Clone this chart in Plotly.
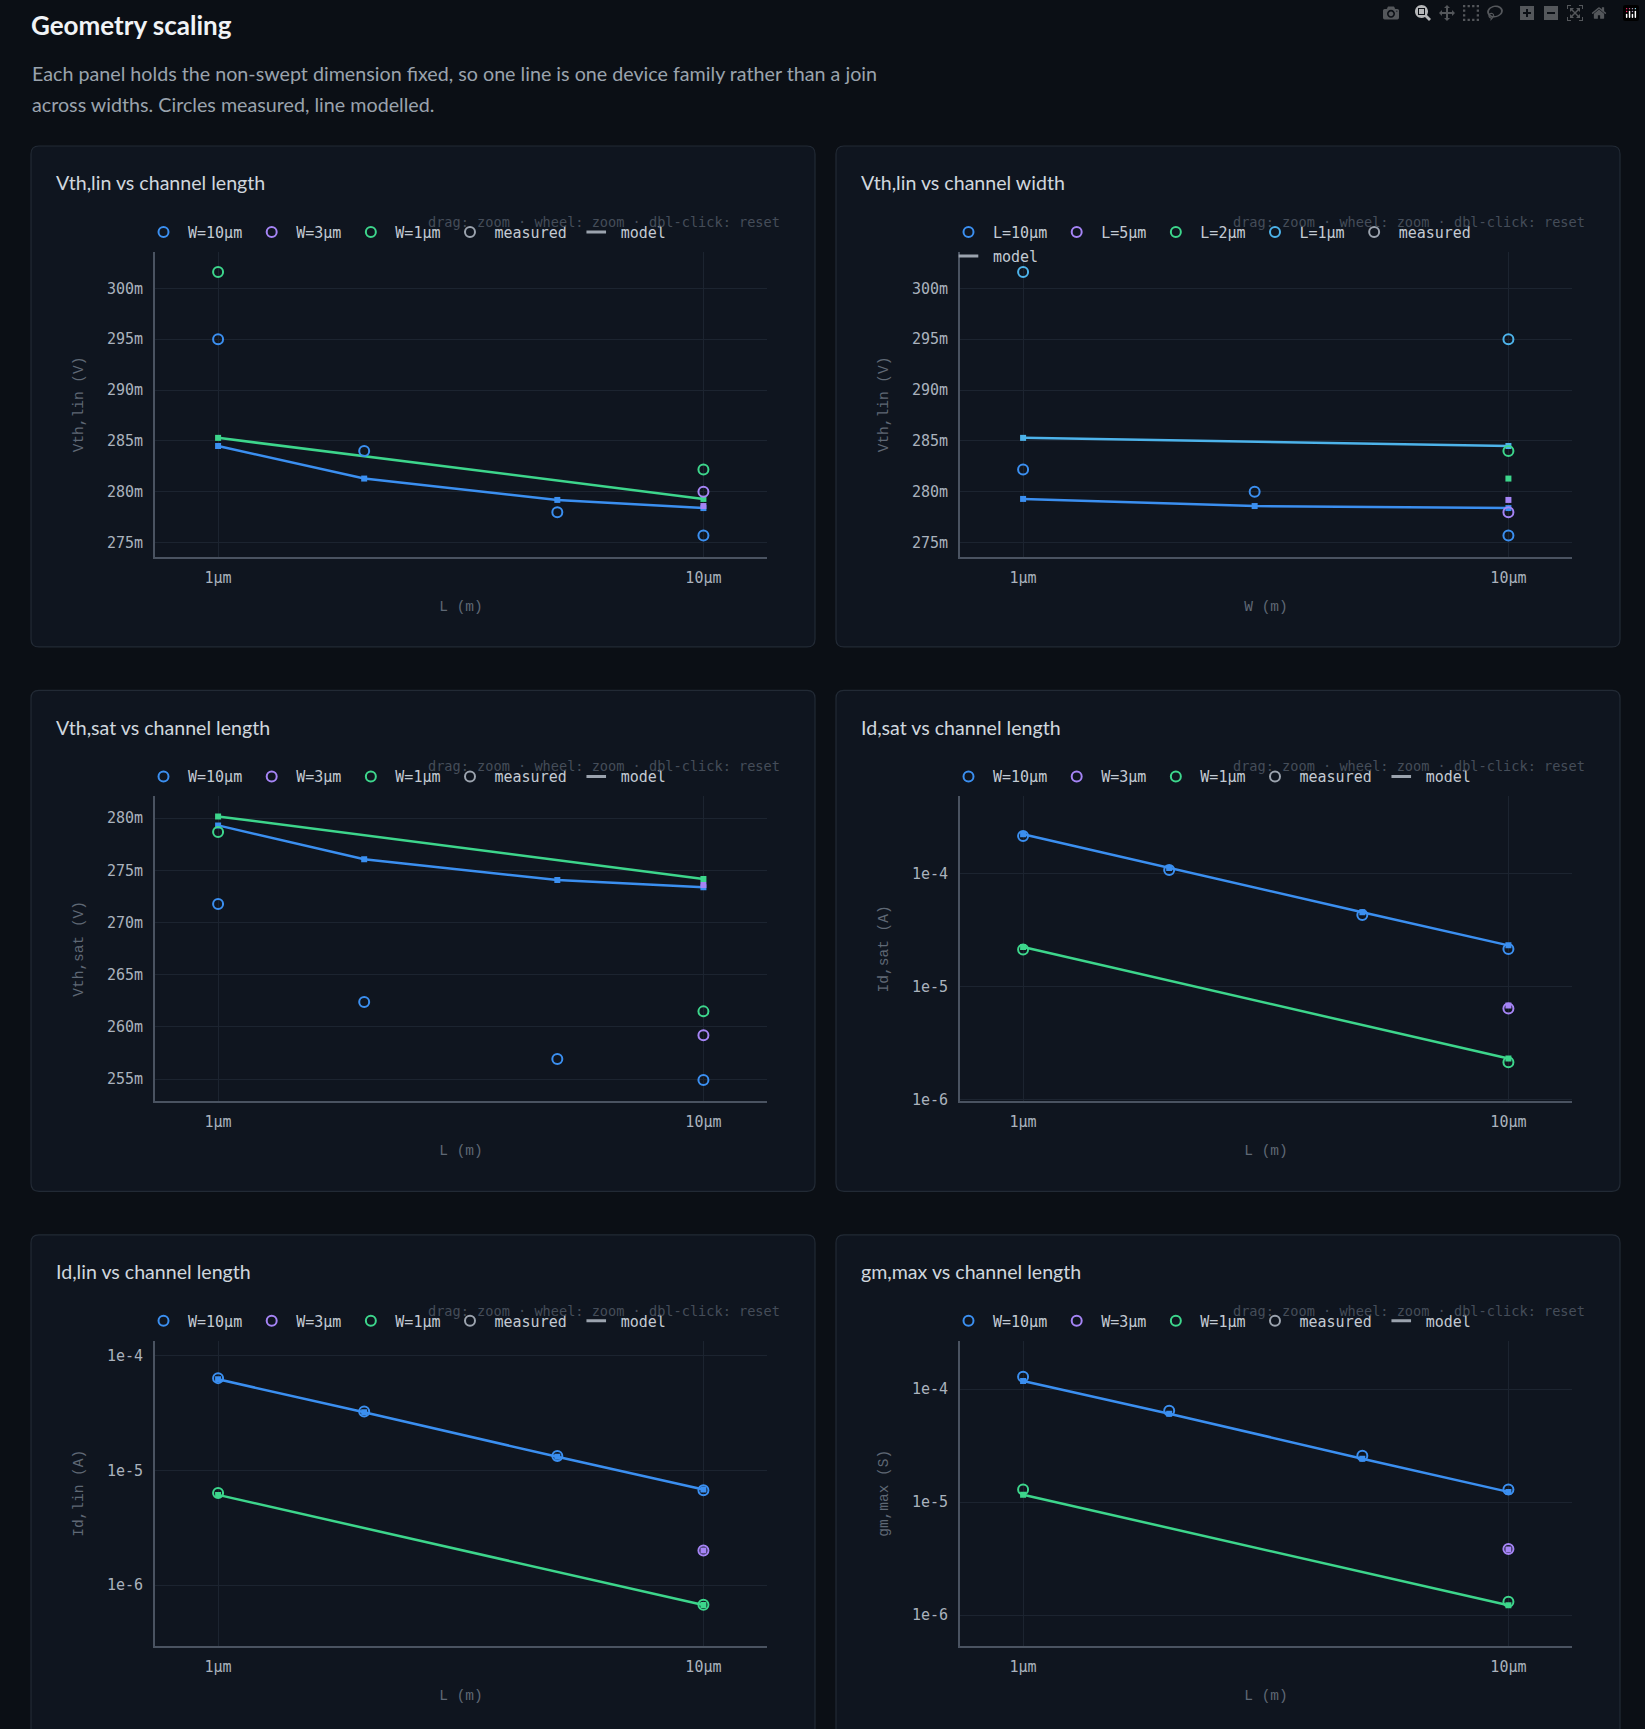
import plotly.graph_objects as go

# page size and card grid (px)
PAGE_W, PAGE_H = 1645, 1729
# the capture squeezes the page by ~0.45% vertically; pre-stretch y positions
Y_STRETCH = 1.0045
CARD_X = [31, 836]
CARD_Y0, ROW_PITCH = 146, 544.5
CARD_W, CARD_H = 784, 501

PAGE_BG = '#0b0f15'
CARD_BG = '#0f151f'
CARD_LINE = '#222a35'
GRID = '#1c2430'
AXIS_LINE = '#4a5361'

BLUE = '#3b8ff0'
PURPLE = '#a584f5'
GREEN = '#3dd68c'
SKY = '#4db3ea'
GRAY = '#9ba3ae'

SANS = 'Lato, Noto Sans, sans-serif'
MONO = 'DejaVu Sans Mono, monospace'

# geometry values (um)
L_um = [1, 2, 5, 10]
W_um = [1, 3, 10]
L_10 = [10]
L_ends = [1, 10]
W_10 = [10]
W_ends = [1, 10]

# Vth,lin vs L  (V)
vlin_w10_meas = [0.2950, 0.2840, 0.2780, 0.2757]
vlin_w10_model = [0.2845, 0.2813, 0.2792, 0.2784]
vlin_w3_meas = [0.2800]
vlin_w3_model = [0.2786]
vlin_w1_meas = [0.3016, 0.2822]
vlin_w1_model = [0.2853, 0.2793]

# Vth,lin vs W  (V)
vw_l10_meas = [0.2822, 0.2800, 0.2757]
vw_l10_model = [0.2793, 0.2786, 0.2784]
vw_l5_meas = [0.2780]
vw_l5_model = [0.2792]
vw_l2_meas = [0.2840]
vw_l2_model = [0.2813]
vw_l1_meas = [0.3016, 0.2950]
vw_l1_model = [0.2853, 0.2845]

# Vth,sat vs L  (V)
vsat_w10_meas = [0.27176, 0.26238, 0.25692, 0.25490]
vsat_w10_model = [0.27930, 0.27605, 0.27407, 0.27337]
vsat_w3_meas = [0.25919]
vsat_w3_model = [0.27360]
vsat_w1_meas = [0.27866, 0.26148]
vsat_w1_model = [0.28016, 0.27416]

# Id,sat vs L  (A)
idsat_w10_meas = [2.15e-4, 1.08e-4, 4.30e-5, 2.15e-5]
idsat_w10_model = [2.23e-4, 1.12e-4, 4.55e-5, 2.32e-5]
idsat_w3_meas = [6.4e-6]
idsat_w3_model = [6.8e-6]
idsat_w1_meas = [2.13e-5, 2.14e-6]
idsat_w1_model = [2.24e-5, 2.31e-6]

# Id,lin vs L  (A)
idlin_w10_meas = [6.35e-5, 3.25e-5, 1.33e-5, 6.70e-6]
idlin_w10_model = [6.20e-5, 3.20e-5, 1.31e-5, 6.80e-6]
idlin_w3_meas = [2.0e-6]
idlin_w3_model = [2.0e-6]
idlin_w1_meas = [6.34e-6, 6.73e-7]
idlin_w1_model = [6.10e-6, 6.70e-7]

# gm,max vs L  (S)
gm_w10_meas = [1.285e-4, 6.43e-5, 2.57e-5, 1.29e-5]
gm_w10_model = [1.18e-4, 6.05e-5, 2.42e-5, 1.23e-5]
gm_w3_meas = [3.84e-6]
gm_w3_model = [3.8e-6]
gm_w1_meas = [1.29e-5, 1.31e-6]
gm_w1_model = [1.16e-5, 1.22e-6]


def um(vals):
    return [v * 1e-6 for v in vals]


def fam(name, color, xs, meas, model):
    return dict(name=name, color=color, x=um(xs), meas=meas, model=model)


def w_families(a, b, c, d, e, f):
    return [fam('W=10µm', BLUE, L_um, a, b),
            fam('W=3µm', PURPLE, L_10, c, d),
            fam('W=1µm', GREEN, L_ends, e, f)]


panels = [
    dict(title='Vth,lin vs channel length', xt='L (m)', yt='Vth,lin (V)', log=False,
         yr=[0.2736, 0.30357],
         series=w_families(vlin_w10_meas, vlin_w10_model, vlin_w3_meas, vlin_w3_model,
                           vlin_w1_meas, vlin_w1_model)),
    dict(title='Vth,lin vs channel width', xt='W (m)', yt='Vth,lin (V)', log=False,
         yr=[0.2736, 0.30357],
         series=[fam('L=10µm', BLUE, W_um, vw_l10_meas, vw_l10_model),
                 fam('L=5µm', PURPLE, W_10, vw_l5_meas, vw_l5_model),
                 fam('L=2µm', GREEN, W_10, vw_l2_meas, vw_l2_model),
                 fam('L=1µm', SKY, W_ends, vw_l1_meas, vw_l1_model)]),
    dict(title='Vth,sat vs channel length', xt='L (m)', yt='Vth,sat (V)', log=False,
         yr=[0.25286, 0.28208],
         series=w_families(vsat_w10_meas, vsat_w10_model, vsat_w3_meas, vsat_w3_model,
                           vsat_w1_meas, vsat_w1_model)),
    dict(title='Id,sat vs channel length', xt='L (m)', yt='Id,sat (A)', log=True,
         yr=[-6.015, -3.316],
         series=w_families(idsat_w10_meas, idsat_w10_model, idsat_w3_meas, idsat_w3_model,
                           idsat_w1_meas, idsat_w1_model)),
    dict(title='Id,lin vs channel length', xt='L (m)', yt='Id,lin (A)', log=True,
         yr=[-6.529, -3.872],
         series=w_families(idlin_w10_meas, idlin_w10_model, idlin_w3_meas, idlin_w3_model,
                           idlin_w1_meas, idlin_w1_model)),
    dict(title='gm,max vs channel length', xt='L (m)', yt='gm,max (S)', log=True,
         yr=[-6.272, -3.573],
         series=w_families(gm_w10_meas, gm_w10_model, gm_w3_meas, gm_w3_model,
                           gm_w1_meas, gm_w1_model)),
]


def fx(px):
    return px / PAGE_W


def fy(px):
    return 1 - px * Y_STRETCH / PAGE_H


def note(text, xpx, ypx, font, xanchor='left'):
    return dict(text=text, x=fx(xpx), y=fy(ypx), xref='paper', yref='paper',
                xanchor=xanchor, yanchor='middle', showarrow=False, font=font)


fig = go.Figure()
shapes, annotations, layout = [], [], {}

# page header
annotations.append(note('<b>Geometry scaling</b>', 29, 25,
                        dict(family=SANS, size=26, color='#f0f3f6')))
subtitle = ['Each panel holds the non-swept dimension fixed, so one line is one device family rather than a join',
            'across widths. Circles measured, line modelled.']
for k, line in enumerate(subtitle):
    annotations.append(note(line, 30, 74 + 31 * k, dict(family=SANS, size=19.7, color='#9aa3ad')))

for i, p in enumerate(panels):
    n = i + 1
    sfx = '' if n == 1 else str(n)
    leg = 'legend' if n == 1 else 'legend%d' % n
    cx = CARD_X[i % 2]
    cy = CARD_Y0 + ROW_PITCH * (i // 2)

    # card background, rounded corners
    rx, ry = 8 / PAGE_W, 8 / PAGE_H
    x0, x1 = fx(cx), fx(cx + CARD_W)
    y0, y1 = fy(cy + CARD_H), fy(cy)
    path = (f'M{x0 + rx},{y1} L{x1 - rx},{y1} Q{x1},{y1} {x1},{y1 - ry} '
            f'L{x1},{y0 + ry} Q{x1},{y0} {x1 - rx},{y0} L{x0 + rx},{y0} '
            f'Q{x0},{y0} {x0},{y0 + ry} L{x0},{y1 - ry} Q{x0},{y1} {x0 + rx},{y1} Z')
    shapes.append(dict(type='path', path=path, xref='paper', yref='paper', layer='below',
                       fillcolor=CARD_BG, line=dict(color=CARD_LINE, width=1.2)))

    annotations.append(note(p['title'], cx + 23, cy + 37,
                            dict(family=SANS, size=19.6, color='#d0d7de')))
    annotations.append(note('drag: zoom · wheel: zoom · dbl-click: reset', cx + 751, cy + 76,
                            dict(family=MONO, size=13.6, color='#454d59'), xanchor='right'))

    for s in p['series']:
        fig.add_trace(go.Scatter(x=s['x'], y=s['model'], mode='lines+markers',
                                 line=dict(color=s['color'], width=2.5),
                                 marker=dict(symbol='square', size=6, color=s['color']),
                                 xaxis='x' + sfx, yaxis='y' + sfx, showlegend=False,
                                 hoverinfo='skip'))
    for s in p['series']:
        fig.add_trace(go.Scatter(x=s['x'], y=s['meas'], mode='markers', name=s['name'],
                                 marker=dict(symbol='circle-open', size=10, color=s['color'],
                                             line=dict(width=2)),
                                 xaxis='x' + sfx, yaxis='y' + sfx, legend=leg))
    fig.add_trace(go.Scatter(x=[None], y=[None], mode='markers', name='measured',
                             marker=dict(symbol='circle-open', size=10, color=GRAY,
                                         line=dict(width=2)),
                             xaxis='x' + sfx, yaxis='y' + sfx, legend=leg))
    # short dash as the legend key for the model lines
    model_leg = 'legend7' if n == 2 else leg
    fig.add_trace(go.Scatter(x=[None], y=[None], mode='markers', name='model',
                             marker=dict(symbol='line-ew-open', size=14, color=GRAY,
                                         line=dict(width=3)),
                             xaxis='x' + sfx, yaxis='y' + sfx, legend=model_leg))

    legend_style = dict(orientation='h', xanchor='left', yanchor='middle', itemwidth=39,
                        bgcolor='rgba(0,0,0,0)', font=dict(family=MONO, size=15, color='#c3cad3'))
    layout[leg] = dict(x=fx(cx + 108), y=fy(cy + 86.3), **legend_style)
    if n == 2:
        layout['legend7'] = dict(x=fx(cx + 108), y=fy(cy + 110.3), **legend_style)

    layout['xaxis' + sfx] = dict(
        type='log', range=[-6.13, -4.869], domain=[fx(cx + 124), fx(cx + 736)],
        anchor='y' + sfx, tickvals=[1e-6, 1e-5], ticktext=['1µm', '10µm'],
        showgrid=True, gridcolor=GRID, zeroline=False, showline=True,
        linecolor=AXIS_LINE, linewidth=2, ticks='', ticklabelstandoff=6,
        tickfont=dict(family=MONO, size=15, color='#aab2bd'),
        title=dict(text=p['xt'], standoff=15,
                   font=dict(family='Liberation Mono, monospace', size=14.5, color='#5f6875')))
    yax = dict(domain=[fy(cy + 411), fy(cy + 106)], anchor='x' + sfx, range=p['yr'],
               showgrid=True, gridcolor=GRID, zeroline=False, showline=True,
               linecolor=AXIS_LINE, linewidth=2, ticks='', ticklabelstandoff=7,
               tickfont=dict(family=MONO, size=15, color='#aab2bd'),
               title=dict(text=p['yt'], standoff=20,
                          font=dict(family='Liberation Mono, monospace', size=14.5,
                                    color='#5f6875')))
    if p['log']:
        yax.update(type='log', tickvals=[1e-6, 1e-5, 1e-4], ticktext=['1e-6', '1e-5', '1e-4'])
    else:
        yax.update(dtick=0.005, tick0=0, tickformat='~s')
    layout['yaxis' + sfx] = yax

fig.update_layout(width=PAGE_W, height=PAGE_H, margin=dict(l=0, r=0, t=0, b=0),
                  paper_bgcolor=PAGE_BG, plot_bgcolor=CARD_BG, shapes=shapes,
                  annotations=annotations, hovermode='closest', **layout)

# page chrome: pin the figure to the viewport so nothing else adds height
page_css = ("var s=document.documentElement.style, b=document.body.style;"
            "s.overflow='hidden'; s.height='%dpx'; b.margin='0'; b.overflow='hidden';"
            "b.height='%dpx'; b.background='%s';"
            "var d=document.getElementById('{plot_id}');"
            "d.style.position='fixed'; d.style.left='0'; d.style.top='0';"
            % (PAGE_H, PAGE_H, PAGE_BG))
fig.write_html('out.html', post_script=page_css)
